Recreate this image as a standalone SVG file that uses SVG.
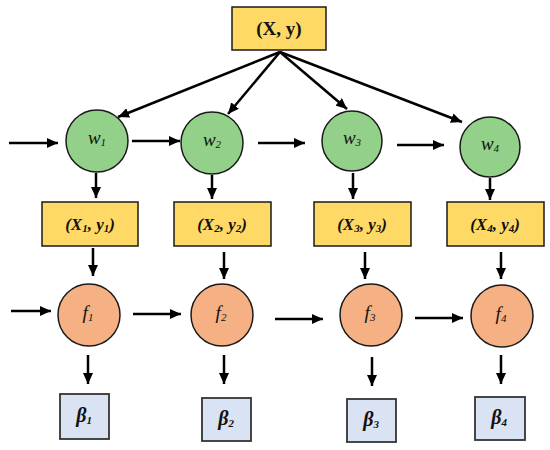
<svg xmlns="http://www.w3.org/2000/svg" width="550" height="450" viewBox="0 0 550 450">
<defs>
<marker id="ah" markerUnits="userSpaceOnUse" markerWidth="12" markerHeight="10" refX="11" refY="5" orient="auto">
<path d="M0,0 L11,5 L0,10 Z" fill="#000"/>
</marker>
<style>
.box{fill:#FFD966;stroke:#1a1a1a;stroke-width:1.5}
.wc{fill:#93D18A;stroke:#1a1a1a;stroke-width:1.5}
.fc{fill:#F5B183;stroke:#1a1a1a;stroke-width:1.5}
.bb{fill:#DAE3F3;stroke:#333;stroke-width:1.8}
.t{font-family:"Liberation Serif","Times New Roman",serif;fill:#111;text-anchor:middle}
.lbl{font-size:17px;font-weight:bold;font-style:italic}
.var{font-size:19px;font-style:italic}
.sub{font-size:11px}
.conn line{stroke:#000;stroke-width:2.5;marker-end:url(#ah)}
</style>
</defs>
<rect width="550" height="450" fill="#fff"/>

<g id="top">
<rect class="box" x="232" y="7" width="94" height="43"/>
<text class="t" x="279" y="35" font-size="19" font-weight="bold">(X, y)</text>
</g>

<g id="w1"><circle class="wc" cx="97" cy="141" r="31"/><text class="t var" x="97" y="144">w<tspan class="sub" dy="2">1</tspan></text></g>
<g id="w2"><circle class="wc" cx="212" cy="143" r="31"/><text class="t var" x="212" y="146">w<tspan class="sub" dy="2">2</tspan></text></g>
<g id="w3"><circle class="wc" cx="352" cy="141" r="30"/><text class="t var" x="352" y="144">w<tspan class="sub" dy="2">3</tspan></text></g>
<g id="w4"><circle class="wc" cx="490" cy="147" r="30"/><text class="t var" x="490" y="150">w<tspan class="sub" dy="2">4</tspan></text></g>

<g id="xy1"><rect class="box" x="42" y="202" width="96" height="44"/><text class="t lbl" x="90" y="230">(X<tspan class="sub" dy="2">1</tspan><tspan dy="-2">, y</tspan><tspan class="sub" dy="2">1</tspan><tspan dy="-2">)</tspan></text></g>
<g id="xy2"><rect class="box" x="174" y="202" width="97" height="44"/><text class="t lbl" x="222" y="230">(X<tspan class="sub" dy="2">2</tspan><tspan dy="-2">, y</tspan><tspan class="sub" dy="2">2</tspan><tspan dy="-2">)</tspan></text></g>
<g id="xy3"><rect class="box" x="314" y="202" width="97" height="44"/><text class="t lbl" x="362" y="230">(X<tspan class="sub" dy="2">3</tspan><tspan dy="-2">, y</tspan><tspan class="sub" dy="2">3</tspan><tspan dy="-2">)</tspan></text></g>
<g id="xy4"><rect class="box" x="447" y="202" width="97" height="44"/><text class="t lbl" x="495" y="230">(X<tspan class="sub" dy="2">4</tspan><tspan dy="-2">, y</tspan><tspan class="sub" dy="2">4</tspan><tspan dy="-2">)</tspan></text></g>

<g id="f1"><circle class="fc" cx="89" cy="315" r="31"/><text class="t var" x="88" y="319">f<tspan class="sub" dy="2">1</tspan></text></g>
<g id="f2"><circle class="fc" cx="222" cy="315" r="31"/><text class="t var" x="221" y="319">f<tspan class="sub" dy="2">2</tspan></text></g>
<g id="f3"><circle class="fc" cx="371" cy="315" r="31"/><text class="t var" x="370" y="319">f<tspan class="sub" dy="2">3</tspan></text></g>
<g id="f4"><circle class="fc" cx="502" cy="316" r="31"/><text class="t var" x="501" y="320">f<tspan class="sub" dy="2">4</tspan></text></g>

<g id="b1"><rect class="bb" x="60" y="394" width="49" height="45"/><text class="t" x="84" y="422" font-size="20" font-weight="bold" font-style="italic">β<tspan class="sub" dy="2">1</tspan></text></g>
<g id="b2"><rect class="bb" x="202" y="398" width="49" height="43"/><text class="t" x="226" y="425" font-size="20" font-weight="bold" font-style="italic">β<tspan class="sub" dy="2">2</tspan></text></g>
<g id="b3"><rect class="bb" x="347" y="399" width="49" height="43"/><text class="t" x="371" y="426" font-size="20" font-weight="bold" font-style="italic">β<tspan class="sub" dy="2">3</tspan></text></g>
<g id="b4"><rect class="bb" x="475" y="397" width="50" height="43"/><text class="t" x="499" y="424" font-size="20" font-weight="bold" font-style="italic">β<tspan class="sub" dy="2">4</tspan></text></g>

<g id="connectors" class="conn">
<line x1="280" y1="52" x2="118" y2="117"/>
<line x1="280" y1="52" x2="228" y2="114"/>
<line x1="280" y1="52" x2="347" y2="109"/>
<line x1="280" y1="52" x2="462" y2="122"/>
<line x1="9" y1="143" x2="58" y2="143"/>
<line x1="132" y1="141" x2="180" y2="141"/>
<line x1="258" y1="143" x2="305" y2="143"/>
<line x1="397" y1="145" x2="444" y2="145"/>
<line x1="96" y1="173" x2="96" y2="198"/>
<line x1="212" y1="175" x2="212" y2="199"/>
<line x1="353" y1="173" x2="353" y2="199"/>
<line x1="490" y1="178" x2="490" y2="200"/>
<line x1="93" y1="248" x2="93" y2="276"/>
<line x1="224" y1="252" x2="224" y2="279"/>
<line x1="365" y1="252" x2="365" y2="279"/>
<line x1="501" y1="252" x2="501" y2="279"/>
<line x1="11" y1="311" x2="51" y2="311"/>
<line x1="133" y1="314" x2="181" y2="314"/>
<line x1="275" y1="319" x2="323" y2="319"/>
<line x1="415" y1="318" x2="463" y2="318"/>
<line x1="88" y1="355" x2="88" y2="384"/>
<line x1="224" y1="355" x2="224" y2="384"/>
<line x1="372" y1="357" x2="372" y2="386"/>
<line x1="501" y1="355" x2="501" y2="384"/>
</g>
</svg>
